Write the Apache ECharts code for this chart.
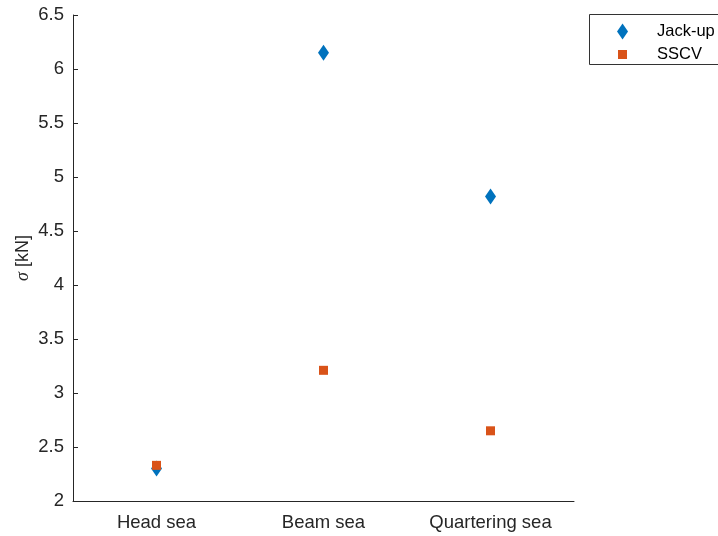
<!DOCTYPE html>
<html>
<head>
<meta charset="utf-8">
<script src="https://cdn.jsdelivr.net/npm/echarts@6/dist/echarts.min.js"></script>
<style>html,body{margin:0;padding:0;background:#fff;}#c{width:718px;height:536px;}</style>
</head>
<body>
<div id="c"></div>
<script>
const categories = ['Head sea', 'Beam sea', 'Quartering sea'];
const jackUp = [2.30, 6.15, 4.82];
const sscv = [2.33, 3.21, 2.65];
const yTicks = [2, 2.5, 3, 3.5, 4, 4.5, 5, 5.5, 6, 6.5];

const chart = echarts.init(document.getElementById('c'), null, {renderer: 'canvas'});
const font = 'Liberation Sans, Arial, Helvetica, sans-serif';
const legendText = {fontSize: 16.5, color: '#000', fontFamily: font};
chart.setOption({
  animation: false,
  textStyle: {fontFamily: font},
  grid: {left: 73, right: 144, top: 15, bottom: 35},
  graphic: [{
    type: 'rect', left: 589, top: 14, z: 0,
    shape: {x: 0, y: 0, width: 140, height: 50},
    style: {fill: '#fff', stroke: '#333', lineWidth: 1}
  }],
  legend: [
    {
      orient: 'vertical', left: 617, top: 23, padding: 0,
      itemWidth: 11, itemHeight: 16,
      textStyle: Object.assign({padding: [0, 0, 0, 24]}, legendText),
      data: [{name: 'Jack-up', icon: 'diamond'}]
    },
    {
      orient: 'vertical', left: 618, top: 46, padding: 0,
      itemWidth: 9, itemHeight: 9,
      textStyle: Object.assign({padding: [0, 0, 0, 25]}, legendText),
      data: [{name: 'SSCV', icon: 'rect'}]
    }
  ],
  xAxis: {
    type: 'category',
    data: categories,
    boundaryGap: true,
    axisLine: {lineStyle: {color: '#262626', width: 1}},
    axisTick: {inside: true, alignWithLabel: true, length: 5, lineStyle: {color: '#262626'}},
    axisLabel: {color: '#262626', fontSize: 18.5, margin: 12, fontFamily: font},
    splitLine: {show: false}
  },
  yAxis: {
    type: 'value',
    min: 2, max: 6.5, interval: 0.5,
    name: '{i|σ} [kN]',
    nameLocation: 'middle',
    nameGap: 41,
    nameMoveOverlap: false,
    nameRotate: 90,
    nameTextStyle: {
      color: '#262626', fontSize: 18, fontFamily: font,
      rich: {i: {fontStyle: 'italic', fontSize: 18, color: '#262626', fontFamily: 'Liberation Serif, serif'}}
    },
    axisLine: {show: true, lineStyle: {color: '#262626', width: 1}},
    axisTick: {show: true, inside: true, length: 5, lineStyle: {color: '#262626'}},
    axisLabel: {color: '#262626', fontSize: 18.5, margin: 9, fontFamily: font,
      formatter: v => String(Math.round(v * 10) / 10)},
    splitLine: {show: false}
  },
  series: [
    {
      name: 'Jack-up', type: 'scatter', data: jackUp,
      symbol: 'diamond', symbolSize: [11, 16],
      itemStyle: {color: '#0072BD', opacity: 1}
    },
    {
      name: 'SSCV', type: 'scatter', data: sscv,
      symbol: 'rect', symbolSize: [9, 9],
      itemStyle: {color: '#D95319', opacity: 1}
    }
  ]
});
</script>
</body>
</html>
